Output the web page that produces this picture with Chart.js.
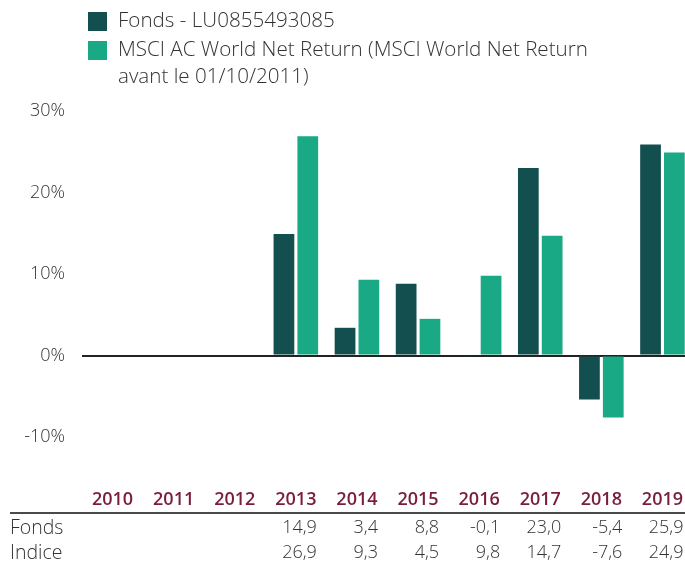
<!DOCTYPE html>
<html>
<head>
<meta charset="utf-8">
<script src="https://cdn.jsdelivr.net/npm/chart.js@4.4.0/dist/chart.umd.min.js"></script>
<style>
  html, body { margin: 0; padding: 0; overflow: hidden; background: #fff; }
  #wrap { width: 693px; height: 561px; }
</style>
</head>
<body>
<div id="wrap"><canvas id="c"></canvas></div>
<script>
const categories = ['2010','2011','2012','2013','2014','2015','2016','2017','2018','2019'];
const fondsValues = [null, null, null, 14.9, 3.4, 8.8, -0.1, 23.0, -5.4, 25.9];
const indiceValues = [null, null, null, 26.9, 9.3, 4.5, 9.8, 14.7, -7.6, 24.9];
const seriesLabels = ['Fonds - LU0855493085', 'MSCI AC World Net Return (MSCI World Net Return avant le 01/10/2011)'];
const legendLines = [['Fonds - LU0855493085'], ['MSCI AC World Net Return (MSCI World Net Return', 'avant le 01/10/2011)']];
const rowLabels = ['Fonds', 'Indice'];
const yTicks = [-10, 0, 10, 20, 30];

const COL_FONDS = '#134F4F';
const COL_INDICE = '#19A985';
const COL_YEAR = '#7A1C3B';
const COL_TEXT = '#333333';
const FONT = '"Open Sans", Lato, sans-serif';

const fmt = v => v.toFixed(1).replace('.', ',');

const overlay = {
  id: 'overlay',
  afterDraw(chart) {
    const ctx = chart.ctx;
    const xs = chart.scales.x;
    ctx.save();
    ctx.textBaseline = 'middle';
    // legend
    const colors = [COL_FONDS, COL_INDICE];
    ctx.font = '300 20.6px ' + FONT;
    ctx.textAlign = 'left';
    let y = 21;
    legendLines.forEach((lines, i) => {
      ctx.fillStyle = colors[i];
      ctx.fillRect(88, y - 9, 19, 19);
      ctx.fillStyle = COL_TEXT;
      lines.forEach((ln, j) => {
        ctx.fillText(ln, 118, y);
        y += (j < lines.length - 1) ? 27 : 29;
      });
    });
    // year labels
    ctx.font = '600 18px ' + FONT;
    ctx.fillStyle = COL_YEAR;
    ctx.textAlign = 'center';
    categories.forEach((c, i) => {
      ctx.fillText(c, xs.getPixelForValue(i), 500);
    });
    // separator line
    ctx.strokeStyle = '#4a4a4a';
    ctx.lineWidth = 2;
    ctx.beginPath();
    ctx.moveTo(10, 513);
    ctx.lineTo(chart.width, 513);
    ctx.stroke();
    // table rows
    ctx.font = '300 19.5px ' + FONT;
    ctx.fillStyle = COL_TEXT;
    ctx.textAlign = 'left';
    ctx.fillText(rowLabels[0], 10, 528);
    ctx.fillText(rowLabels[1], 10, 553);
    ctx.font = '300 18px ' + FONT;
    ctx.textAlign = 'right';
    categories.forEach((c, i) => {
      const cx = xs.getPixelForValue(i);
      if (fondsValues[i] !== null) ctx.fillText(fmt(fondsValues[i]), cx + 21, 528);
      if (indiceValues[i] !== null) ctx.fillText(fmt(indiceValues[i]), cx + 21, 553);
    });
    ctx.restore();
  }
};

new Chart(document.getElementById('c'), {
  type: 'bar',
  data: {
    labels: categories,
    datasets: [
      { label: seriesLabels[0], data: fondsValues, backgroundColor: COL_FONDS, borderWidth: 0 },
      { label: seriesLabels[1], data: indiceValues, backgroundColor: COL_INDICE, borderWidth: 0 }
    ]
  },
  options: {
    responsive: true,
    maintainAspectRatio: false,
    animation: false,
    datasets: { bar: { categoryPercentage: 0.78, barPercentage: 0.87 } },
    layout: { padding: { top: 111, bottom: 124, left: 0, right: 0 } },
    plugins: { legend: { display: false }, tooltip: { enabled: false } },
    scales: {
      x: {
        grid: { display: false, drawTicks: false },
        border: { display: false },
        ticks: { display: false }
      },
      y: {
        min: -10,
        max: 30,
        afterBuildTicks: axis => { axis.ticks = yTicks.map(v => ({ value: v })); },
        afterFit: axis => { axis.width = 82; },
        border: { display: false },
        grid: {
          drawTicks: false,
          color: c => (c.tick && c.tick.value === 0) ? '#222' : 'rgba(0,0,0,0)',
          lineWidth: c => (c.tick && c.tick.value === 0) ? 2 : 0
        },
        ticks: {
          padding: 17,
          color: COL_TEXT,
          font: { family: FONT, size: 18, weight: 300 },
          callback: v => v + '%'
        }
      }
    }
  },
  plugins: [overlay]
});
</script>
</body>
</html>
